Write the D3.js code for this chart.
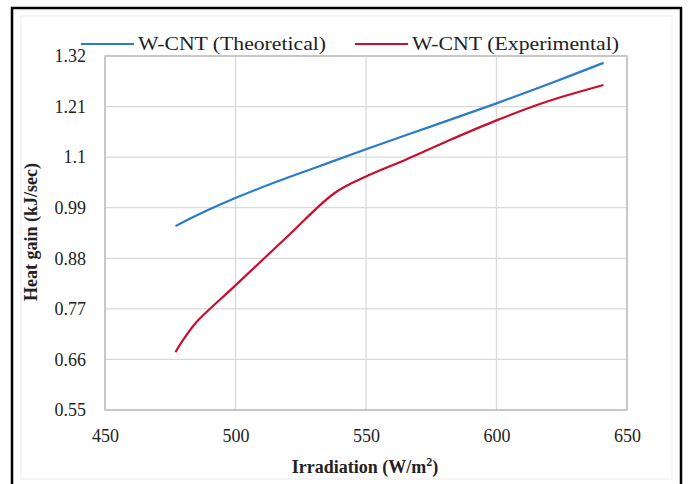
<!DOCTYPE html>
<html>
<head>
<meta charset="utf-8">
<script src="https://cdn.jsdelivr.net/npm/d3@7"></script>
<style>
  body { margin: 0; background: #fff; }
  text { font-family: "Liberation Serif", "DejaVu Serif", serif; }
</style>
</head>
<body>
<div id="chart"></div>
<script>
// data
var xTicks = [450, 500, 550, 600, 650];
var yTicks = [0.55, 0.66, 0.77, 0.88, 0.99, 1.1, 1.21, 1.32];
var yTickLabels = ["0.55", "0.66", "0.77", "0.88", "0.99", "1.1", "1.21", "1.32"];

var theoIrr = [477, 485, 495, 510, 530, 550, 575, 600, 620, 641];
var theoGain = [0.950, 0.973, 0.999, 1.034, 1.076, 1.117, 1.167, 1.217, 1.259, 1.305];

var expIrr = [477, 480, 485, 500, 520, 538, 550, 565, 580, 600, 620, 641];
var expGain = [0.676, 0.703, 0.741, 0.821, 0.928, 1.022, 1.058, 1.094, 1.132, 1.180, 1.222, 1.257];

var seriesNames = ["W-CNT (Theoretical)", "W-CNT (Experimental)"];
var seriesColors = ["#2a7cc8", "#c8102e"];

var svgWidth = 688;
var svgHeight = 484;
var plot = { left: 105, right: 627, top: 56, bottom: 410 };

var svg = d3.select("#chart").append("svg")
    .attr("width", svgWidth)
    .attr("height", svgHeight);

// outer frames
svg.append("rect")
    .attr("x", 21).attr("y", 16).attr("width", 651).attr("height", 463)
    .attr("fill", "none").attr("stroke", "#ececec");
svg.append("rect")
    .attr("x", 12).attr("y", 8).attr("width", 669).attr("height", 490)
    .attr("fill", "none").attr("stroke", "#000").attr("stroke-width", 2.5);

var x = d3.scaleLinear().domain([450, 650]).range([plot.left, plot.right]);
var y = d3.scaleLinear().domain([0.55, 1.32]).range([plot.bottom, plot.top]);

// gridlines
svg.append("g").selectAll("line.h")
    .data(yTicks)
    .enter().append("line")
    .attr("x1", plot.left).attr("x2", plot.right)
    .attr("y1", function (d) { return y(d); })
    .attr("y2", function (d) { return y(d); })
    .attr("stroke", "#d9d9d9").attr("stroke-width", 1.3);
svg.append("g").selectAll("line.v")
    .data(xTicks)
    .enter().append("line")
    .attr("x1", function (d) { return x(d); })
    .attr("x2", function (d) { return x(d); })
    .attr("y1", plot.top).attr("y2", plot.bottom)
    .attr("stroke", "#d9d9d9").attr("stroke-width", 1.3);

// plot border
svg.append("rect")
    .attr("x", plot.left).attr("y", plot.top)
    .attr("width", plot.right - plot.left).attr("height", plot.bottom - plot.top)
    .attr("fill", "none").attr("stroke", "#bfbfbf").attr("stroke-width", 1.5);

// axes
var bottomAxis = d3.axisBottom(x).tickValues(xTicks).tickSize(0).tickPadding(19)
    .tickFormat(d3.format("d"));
var gx = svg.append("g")
    .attr("transform", "translate(0," + plot.bottom + ")")
    .call(bottomAxis);
gx.select(".domain").remove();
gx.selectAll("text").attr("font-size", 18).attr("fill", "#222")
    .style("font-family", "Liberation Serif");

var leftAxis = d3.axisLeft(y).tickValues(yTicks).tickSize(0).tickPadding(19)
    .tickFormat(function (d, i) { return yTickLabels[i]; });
var gy = svg.append("g")
    .attr("transform", "translate(" + plot.left + ",0)")
    .call(leftAxis);
gy.select(".domain").remove();
gy.selectAll("text").attr("font-size", 18).attr("fill", "#222")
    .style("font-family", "Liberation Serif");

// lines
var line = d3.line()
    .x(function (d) { return x(d[0]); })
    .y(function (d) { return y(d[1]); })
    .curve(d3.curveCatmullRom);

var series = [
    d3.zip(theoIrr, theoGain),
    d3.zip(expIrr, expGain)
];

svg.append("g").selectAll("path")
    .data(series)
    .enter().append("path")
    .attr("d", line)
    .attr("fill", "none")
    .attr("stroke", function (d, i) { return seriesColors[i]; })
    .attr("stroke-width", 2.2);

// legend
var legendX = [81, 355];
var legendTextLen = [188, 207];
var legend = svg.append("g").selectAll("g")
    .data(seriesNames)
    .enter().append("g")
    .attr("transform", function (d, i) { return "translate(" + legendX[i] + ",44)"; });
legend.append("line")
    .attr("x1", 0).attr("x2", 53)
    .attr("stroke", function (d, i) { return seriesColors[i]; })
    .attr("stroke-width", 2.2);
legend.append("text")
    .attr("x", 57).attr("y", 6)
    .attr("font-size", 18)
    .attr("fill", "#222")
    .attr("textLength", function (d, i) { return legendTextLen[i]; })
    .attr("lengthAdjust", "spacingAndGlyphs")
    .text(function (d) { return d; });

// axis titles
var xt = svg.append("text")
    .attr("x", 365).attr("y", 473)
    .attr("text-anchor", "middle")
    .attr("font-size", 18).attr("font-weight", "bold")
    .attr("fill", "#222");
xt.append("tspan").text("Irradiation (W/m");
xt.append("tspan").attr("dy", -7).attr("font-size", 12).text("2");
xt.append("tspan").attr("dy", 7).text(")");

svg.append("text")
    .attr("transform", "translate(37,232) rotate(-90)")
    .attr("text-anchor", "middle")
    .attr("font-size", 18).attr("font-weight", "bold")
    .attr("fill", "#222")
    .text("Heat gain (kJ/sec)");
</script>
</body>
</html>
